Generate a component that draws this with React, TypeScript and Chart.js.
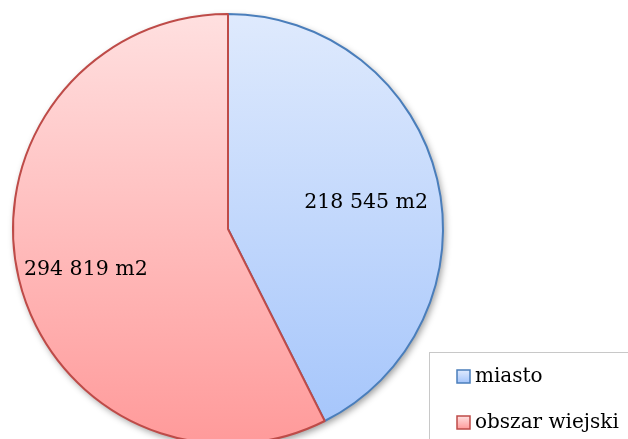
import React, { useEffect, useRef } from 'react';
import { Chart, registerables } from 'chart.js';

Chart.register(...registerables);

const categories = ['miasto', 'obszar wiejski'];
const values = [218545, 294819];
const unit = 'm2';

const gradientTop = ['#dfeafd', '#ffe0e0'];
const gradientBottom = ['#a3c4fb', '#ff9a9a'];
const borderColors = ['#4a7ebb', '#be4b48'];
const FONT = '"DejaVu Serif", serif';

const formatValue = (v: number) =>
  String(v).replace(/\B(?=(\d{3})+(?!\d))/g, ' ') + ' ' + unit;

const shadowPlugin = {
  id: 'pieShadow',
  beforeDatasetsDraw(chart: any) {
    const arc = chart.getDatasetMeta(0).data[0];
    if (!arc) return;
    const { x, y, outerRadius } = arc.getProps(['x', 'y', 'outerRadius'], true);
    const ctx = chart.ctx;
    ctx.save();
    ctx.shadowColor = 'rgba(0,0,0,0.4)';
    ctx.shadowBlur = 7;
    ctx.shadowOffsetX = 2;
    ctx.shadowOffsetY = 3;
    ctx.beginPath();
    ctx.arc(x, y, outerRadius, 0, Math.PI * 2);
    ctx.fillStyle = '#ffffff';
    ctx.fill();
    ctx.restore();
  },
};

const labelPlugin = {
  id: 'sliceLabels',
  afterDatasetsDraw(chart: any) {
    const ctx = chart.ctx;
    const meta = chart.getDatasetMeta(0);
    ctx.save();
    ctx.font = `20.5px ${FONT}`;
    ctx.fillStyle = '#000000';
    ctx.textAlign = 'center';
    ctx.textBaseline = 'middle';
    meta.data.forEach((arc: any, i: number) => {
      const { x, y, startAngle, endAngle, outerRadius } = arc.getProps(
        ['x', 'y', 'startAngle', 'endAngle', 'outerRadius'],
        true
      );
      const mid = (startAngle + endAngle) / 2;
      const r = outerRadius * 0.67;
      ctx.fillText(
        formatValue(chart.data.datasets[0].data[i]),
        x + Math.cos(mid) * r - 2,
        y + Math.sin(mid) * r + 7
      );
    });
    ctx.restore();
  },
};

const legendPlugin = {
  id: 'boxLegend',
  afterDraw(chart: any) {
    const ctx = chart.ctx;
    const left = 429.5;
    const top = 352.5;
    ctx.save();
    ctx.strokeStyle = '#c8c8c8';
    ctx.lineWidth = 1;
    ctx.strokeRect(left, top, 400, 200);
    ctx.font = `20px ${FONT}`;
    ctx.textAlign = 'left';
    ctx.textBaseline = 'middle';
    const labels: string[] = chart.data.labels;
    labels.forEach((lab: string, i: number) => {
      const cy = 377 + i * 46;
      const bx = 457;
      const by = cy - 7;
      const s = 13;
      const g = ctx.createLinearGradient(0, by, 0, by + s);
      g.addColorStop(0, gradientTop[i]);
      g.addColorStop(1, gradientBottom[i]);
      ctx.fillStyle = g;
      ctx.fillRect(bx, by, s, s);
      ctx.strokeStyle = borderColors[i];
      ctx.lineWidth = 1.5;
      ctx.strokeRect(bx, by, s, s);
      ctx.fillStyle = '#000000';
      ctx.fillText(lab, 475, cy);
    });
    ctx.restore();
  },
};

export default function App() {
  const ref = useRef<HTMLCanvasElement>(null);
  useEffect(() => {
    if (!ref.current) return;
    const chart = new Chart(ref.current, {
      type: 'pie',
      data: {
        labels: categories,
        datasets: [
          {
            data: values,
            backgroundColor: (c: any) => {
              const i = c.dataIndex ?? 0;
              const area = c.chart.chartArea;
              if (!area) return gradientBottom[i];
              const g = c.chart.ctx.createLinearGradient(0, area.top, 0, area.bottom);
              g.addColorStop(0, gradientTop[i]);
              g.addColorStop(1, gradientBottom[i]);
              return g;
            },
            borderColor: borderColors,
            borderWidth: 2,
          },
        ],
      },
      options: {
        animation: false,
        responsive: false,
        devicePixelRatio: 1,
        events: [],
        layout: { padding: { left: 12, top: 13, right: 184, bottom: 15 } },
        plugins: {
          legend: { display: false },
          tooltip: { enabled: false },
        },
      },
      plugins: [shadowPlugin, labelPlugin, legendPlugin],
    });
    return () => chart.destroy();
  }, []);
  return (
    <div
      style={{
        position: 'fixed',
        left: 0,
        top: 0,
        width: 628,
        height: 439,
        overflow: 'hidden',
        background: '#ffffff',
      }}
    >
      <canvas ref={ref} width={628} height={460} style={{ width: 628, height: 460, display: 'block' }} />
    </div>
  );
}
